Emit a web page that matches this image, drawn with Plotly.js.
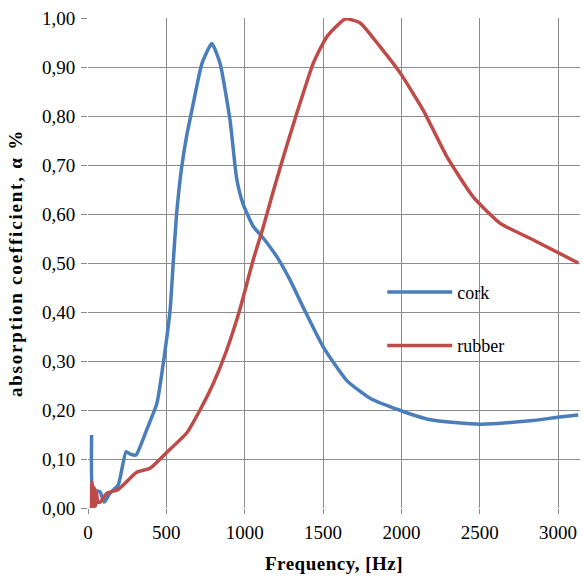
<!DOCTYPE html>
<html>
<head>
<meta charset="utf-8">
<script src="https://cdn.plot.ly/plotly-3.0.1.min.js"></script>
<style>
html,body{margin:0;padding:0;background:#fff;}
#chart{width:583px;height:584px;}
#chart .ytitle{letter-spacing:1.8px;}
#chart .xtitle{letter-spacing:0.5px;}
</style>
</head>
<body>
<div id="chart"></div>
<script>
// Frequency [Hz] and absorption coefficient values
const corkFreq = [23, 30, 50, 77, 103, 140, 193, 243, 270, 306, 375, 440, 492, 524, 545, 566, 598, 630, 662, 727, 790, 843, 907, 949, 990, 1054, 1118, 1207, 1290, 1373, 1501, 1652, 1800, 1986, 2184, 2503, 2822, 2995, 3129];
const corkAbs  = [0.149, 0.037, 0.035, 0.033, 0.012, 0.03, 0.047, 0.115, 0.11, 0.108, 0.16, 0.214, 0.322, 0.404, 0.506, 0.602, 0.696, 0.76, 0.81, 0.907, 0.948, 0.907, 0.79, 0.672, 0.62, 0.575, 0.551, 0.512, 0.465, 0.41, 0.329, 0.26, 0.224, 0.20, 0.18, 0.171, 0.178, 0.185, 0.19];

const rubberFreq = [22, 25, 29, 33, 38, 43, 49, 55, 62, 77, 120, 193, 311, 396, 504, 630, 715, 801, 885, 971, 1054, 1118, 1181, 1250, 1333, 1438, 1525, 1642, 1737, 1865, 1992, 2139, 2292, 2458, 2631, 2842, 3129];
const rubberAbs  = [0.0, 0.053, 0.0, 0.045, 0.0, 0.04, 0.005, 0.03, 0.012, 0.012, 0.03, 0.038, 0.073, 0.081, 0.114, 0.153, 0.20, 0.255, 0.322, 0.407, 0.506, 0.573, 0.645, 0.72, 0.806, 0.908, 0.962, 0.998, 0.99, 0.941, 0.888, 0.812, 0.716, 0.635, 0.581, 0.547, 0.50];

const seriesNames = ['cork', 'rubber'];
const seriesColors = ['#4a7ebb', '#be4b48'];

const xTickVals = [0, 500, 1000, 1500, 2000, 2500, 3000];
const yTickVals = [0, 0.1, 0.2, 0.3, 0.4, 0.5, 0.6, 0.7, 0.8, 0.9, 1.0];

const serif = '"Liberation Serif", "DejaVu Serif", serif';

const traces = [
  {x: corkFreq, y: corkAbs, name: seriesNames[0], type: 'scatter', mode: 'lines',
   line: {color: seriesColors[0], width: 3.5, shape: 'spline', smoothing: 0.5}, legendgroup: 'a'},
  {x: rubberFreq, y: rubberAbs, name: seriesNames[1], type: 'scatter', mode: 'lines',
   line: {color: seriesColors[1], width: 3.5, shape: 'spline', smoothing: 0.5}, legendgroup: 'b'}
];

const layout = {
  width: 583, height: 584,
  margin: {l: 88, r: 3, t: 18, b: 76},
  paper_bgcolor: '#fff', plot_bgcolor: '#fff',
  separators: ', ',
  showlegend: true,
  legend: {x: 0.598, y: 0.478, xanchor: 'left', yanchor: 'top', bgcolor: 'rgba(0,0,0,0)',
           itemwidth: 65,
           font: {family: serif, size: 18, color: '#000'}, tracegroupgap: 27},
  xaxis: {
    range: [0, 3140], tickvals: xTickVals, showgrid: true, gridcolor: '#8c8c8c', gridwidth: 1,
    zeroline: false, showline: false, ticks: 'outside', ticklen: 5, tickcolor: '#8c8c8c',
    tickfont: {family: serif, size: 19, color: '#000'}, ticklabelstandoff: 2,
    title: {text: 'Frequency, [Hz]', font: {family: serif, size: 19, color: '#000', weight: 'bold'}, standoff: 14},
    automargin: false
  },
  yaxis: {
    range: [0, 1.0], tickvals: yTickVals, tickformat: '.2f', showgrid: true, gridcolor: '#8c8c8c', gridwidth: 1,
    zeroline: false, showline: false, ticks: 'outside', ticklen: 6, tickcolor: '#8c8c8c',
    tickfont: {family: serif, size: 19, color: '#000'}, ticklabelstandoff: 2,
    title: {text: 'absorption coefficient, α %', font: {family: serif, size: 19, color: '#000', weight: 'bold'}, standoff: 14},
    automargin: false
  }
};

Plotly.newPlot('chart', traces, layout, {displayModeBar: false, staticPlot: true});
</script>
</body>
</html>
